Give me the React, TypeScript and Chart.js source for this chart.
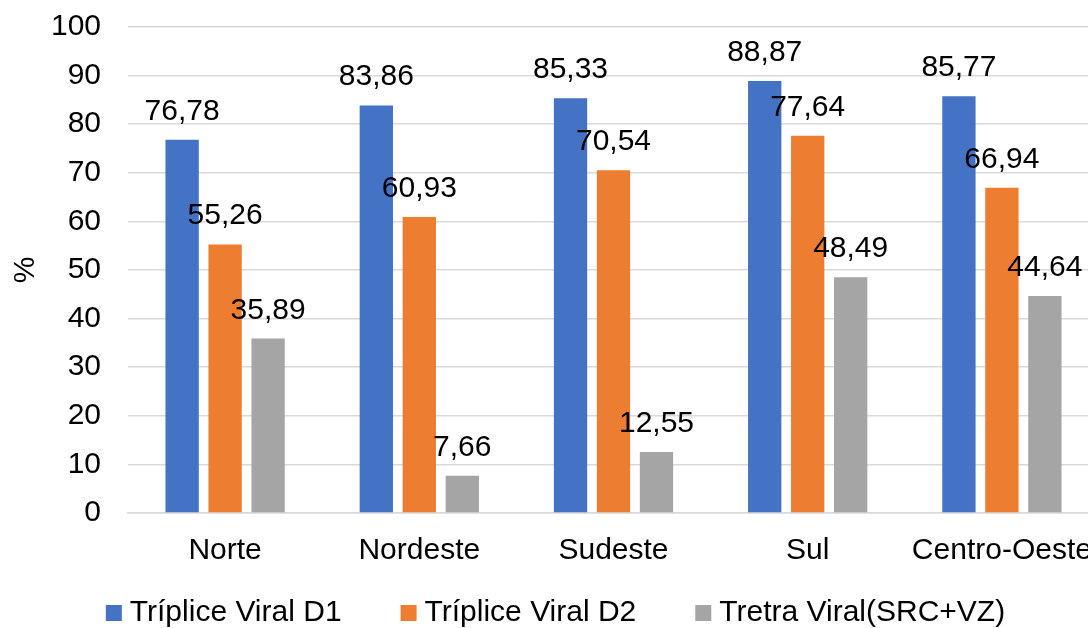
import { useEffect, useRef } from "react";
import { Chart, registerables } from "chart.js";

Chart.register(...registerables);

// Vaccination coverage by region (%)
const regions = ["Norte", "Nordeste", "Sudeste", "Sul", "Centro-Oeste"];
const tripliceD1 = [76.78, 83.86, 85.33, 88.87, 85.77];
const tripliceD2 = [55.26, 60.93, 70.54, 77.64, 66.94];
const tetraViral = [35.89, 7.66, 12.55, 48.49, 44.64];
const seriesNames = ["Tríplice Viral D1", "Tríplice Viral D2", "Tretra Viral(SRC+VZ)"];
const seriesColors = ["#4472C4", "#ED7D31", "#A5A5A5"];
const yMin = 0;
const yMax = 100;
const yStep = 10;

const FONT = '"Liberation Sans", Arial, sans-serif';
const FONT_SIZE = 30;
const fmt = (v: number) => v.toFixed(2).replace(".", ",");

// Value labels above each bar, centred on the bar
const valueLabels = {
  id: "valueLabels",
  afterDatasetsDraw(chart: any) {
    const ctx = chart.ctx;
    ctx.save();
    ctx.font = `${FONT_SIZE}px ${FONT}`;
    ctx.fillStyle = "#000";
    ctx.textAlign = "center";
    ctx.textBaseline = "alphabetic";
    chart.data.datasets.forEach((ds: any, i: number) => {
      const meta = chart.getDatasetMeta(i);
      meta.data.forEach((bar: any, j: number) => {
        ctx.fillText(fmt(ds.data[j]), bar.x, bar.y - 20);
      });
    });
    ctx.restore();
  },
};

// Legend row along the bottom: small square swatch followed by the series name
const bottomLegend = {
  id: "bottomLegend",
  afterDraw(chart: any) {
    const ctx = chart.ctx;
    ctx.save();
    ctx.font = `${FONT_SIZE}px ${FONT}`;
    const box = 16;
    const gap = 8;
    const spacing = 59;
    const items = chart.data.datasets.map((ds: any) => ({
      label: ds.label as string,
      color: ds.backgroundColor as string,
      w: box + gap + ctx.measureText(ds.label).width,
    }));
    const total =
      items.reduce((a: number, it: any) => a + it.w, 0) + spacing * (items.length - 1);
    let x = chart.width / 2 - total / 2;
    const cy = chart.height - 15;
    ctx.textAlign = "left";
    ctx.textBaseline = "middle";
    items.forEach((it: any) => {
      ctx.fillStyle = it.color;
      ctx.fillRect(x, cy - box / 2, box, box);
      ctx.fillStyle = "#000";
      ctx.fillText(it.label, x + box + gap, cy);
      x += it.w + spacing;
    });
    ctx.restore();
  },
};

export default function App() {
  const canvasRef = useRef<HTMLCanvasElement | null>(null);

  useEffect(() => {
    const canvas = canvasRef.current;
    if (!canvas) return;
    const data = [tripliceD1, tripliceD2, tetraViral];
    const chart = new Chart(canvas, {
      type: "bar",
      data: {
        labels: regions,
        datasets: data.map((values, i) => ({
          label: seriesNames[i],
          data: values,
          backgroundColor: seriesColors[i],
          borderWidth: 0,
          categoryPercentage: 0.664,
          barPercentage: 0.775,
        })),
      },
      options: {
        animation: false,
        responsive: false,
        maintainAspectRatio: false,
        layout: { padding: { top: 27, right: 12, bottom: 0, left: 0 } },
        plugins: {
          legend: { display: false },
          tooltip: { enabled: false },
        },
        scales: {
          x: {
            grid: { display: false, drawTicks: false },
            border: { display: true, color: "#d9d9d9", width: 1.5 },
            ticks: {
              color: "#000",
              font: { family: FONT, size: FONT_SIZE },
              padding: 20,
              maxRotation: 0,
              autoSkip: false,
            },
            afterFit(scale: any) {
              scale.height = 115;
              scale.paddingLeft = 0;
              scale.paddingRight = 0;
            },
          },
          y: {
            min: yMin,
            max: yMax,
            ticks: {
              stepSize: yStep,
              color: "#000",
              font: { family: FONT, size: FONT_SIZE },
              padding: 27,
            },
            grid: { color: "#d9d9d9", lineWidth: 1.5, drawTicks: false },
            border: { display: false },
            title: {
              display: true,
              text: "%",
              color: "#000",
              font: { family: FONT, size: FONT_SIZE },
              padding: { top: 8, bottom: 0 },
            },
            afterFit(scale: any) {
              scale.width = 128;
              scale.paddingTop = 0;
              scale.paddingBottom = 0;
            },
          },
        },
      },
      plugins: [valueLabels, bottomLegend],
    });
    return () => chart.destroy();
  }, []);

  return (
    <div
      style={{
        position: "fixed",
        left: 0,
        top: 0,
        width: 1088,
        height: 628,
        overflow: "hidden",
        background: "#fff",
      }}
    >
      <canvas
        ref={canvasRef}
        width={1111}
        height={628}
        style={{ display: "block", width: 1111, height: 628 }}
      />
    </div>
  );
}
